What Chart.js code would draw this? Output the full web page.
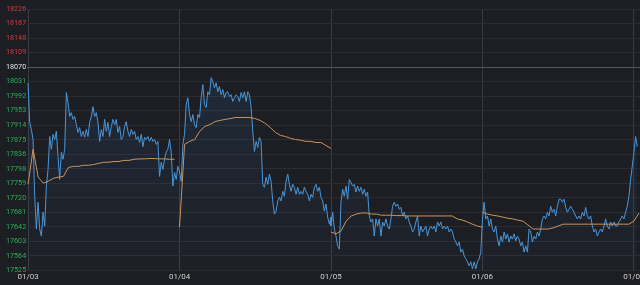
<html><head>
<meta charset="UTF-8">
<title>Intraday</title>
<script src="https://cdn.jsdelivr.net/npm/chart.js"></script>
<style>
  html, body { margin: 0; padding: 0; background: #1d1e23; overflow: hidden; }
  #wrap { width: 640px; height: 285px; }
</style>
</head>
<body>
<div id="wrap"><canvas id="intraday"></canvas></div>
<script>
// day labels on the x axis (day boundaries)
const dayLabels = ['01/03', '01/04', '01/05', '01/06', '01/07'];
// y tick labels as shown, bottom to top
const yTickLabels = ['17525', '17564', '17603', '17642', '17681', '17720', '17759', '17798', '17836', '17875',
  '17914', '17953', '17992', '18031', '18070', '18109', '18148', '18187', '18226'];
const prevClose = 18070;

// last price, one array per session
const day1Price = [18028, 17922, 17903, 17876, 17724, 17636, 17708, 17636, 17617, 17681,
  17644, 17751, 17796, 17884, 17850, 17890, 17876, 17898, 17831, 17769,
  17842, 17823, 17850, 18002, 17975, 17938, 17948, 17930, 17938, 17916,
  17895, 17908, 17884, 17898, 17882, 17903, 17884, 17922, 17938, 17964,
  17938, 17948, 17922, 17871, 17903, 17884, 17930, 17898, 17922, 17884,
  17911, 17930, 17916, 17930, 17895, 17911, 17876, 17884, 17911, 17924,
  17898, 17884, 17903, 17890, 17898, 17876, 17884, 17868, 17890, 17857,
  17882, 17876, 17884, 17871, 17882, 17871, 17876, 17863, 17871, 17777,
  17815, 17796, 17823, 17842, 17850, 17876, 17842, 17751, 17788, 17769,
  17804];
const day2Price = [17791, 17764, 17863, 17890, 17970, 17988, 17943, 17924, 17943, 17916,
  17908, 17943, 17935, 17988, 18023, 17970, 17962, 18004, 17996, 18042,
  18031, 18015, 18028, 18004, 18018, 17996, 18010, 17988, 18002, 18004,
  17991, 17996, 17978, 17988, 17996, 17991, 17978, 18002, 17988, 18004,
  17978, 18004, 17996, 17962, 17898, 17844, 17871, 17855, 17882, 17871,
  17756, 17748, 17775, 17756, 17783, 17764, 17711, 17676, 17684, 17711,
  17721, 17711, 17737, 17724, 17764, 17783, 17756, 17737, 17756, 17748,
  17729, 17748, 17729, 17737, 17729, 17748, 17737, 17729, 17711, 17729,
  17721, 17748, 17756, 17737, 17748, 17721, 17711, 17684, 17703, 17668,
  17649, 17668];
const day3Price = [17644, 17681, 17636, 17617, 17591, 17582, 17708, 17743, 17724, 17751,
  17716, 17769, 17761, 17751, 17756, 17735, 17751, 17737, 17748, 17729,
  17743, 17724, 17735, 17671, 17655, 17663, 17617, 17663, 17644, 17663,
  17617, 17655, 17644, 17663, 17644, 17636, 17663, 17697, 17708, 17697,
  17703, 17689, 17694, 17671, 17681, 17663, 17671, 17655, 17644, 17628,
  17636, 17655, 17671, 17617, 17644, 17628, 17636, 17644, 17617, 17636,
  17644, 17636, 17644, 17628, 17655, 17644, 17655, 17636, 17644, 17636,
  17644, 17628, 17636, 17628, 17609, 17601, 17591, 17601, 17574, 17582,
  17564, 17556, 17548, 17537, 17548, 17529, 17548, 17529, 17548, 17556,
  17574];
const day4Price = [17663, 17708, 17663, 17671, 17644, 17663, 17636, 17628, 17644, 17609,
  17591, 17617, 17601, 17628, 17609, 17623, 17601, 17617, 17609, 17623,
  17604, 17617, 17609, 17591, 17601, 17574, 17591, 17574, 17636, 17628,
  17601, 17617, 17609, 17628, 17617, 17636, 17663, 17671, 17663, 17681,
  17671, 17697, 17681, 17689, 17671, 17697, 17716, 17716, 17708, 17716,
  17694, 17681, 17689, 17697, 17689, 17681, 17671, 17663, 17671, 17663,
  17681, 17671, 17694, 17671, 17663, 17671, 17644, 17628, 17636, 17617,
  17628, 17636, 17628, 17644, 17663, 17644, 17636, 17655, 17644, 17655,
  17644, 17644, 17655, 17663, 17671, 17663, 17681, 17697, 17724, 17769,
  17804, 17842, 17884, 17857];

// average price line, one array per session
const day1Avg = [17756, 17850, 17775, 17759, 17764, 17772, 17775, 17777, 17801, 17804,
  17804, 17807, 17807, 17809, 17812, 17815, 17815, 17817, 17817, 17820,
  17820, 17823, 17824, 17824, 17825, 17825, 17824, 17824, 17823, 17823];
const day2Avg = [17641, 17863, 17871, 17876, 17898, 17911, 17916, 17924, 17927, 17930,
  17932, 17935, 17935, 17935, 17935, 17932, 17927, 17919, 17908, 17895,
  17887, 17884, 17879, 17876, 17874, 17871, 17871, 17868, 17868, 17860,
  17852];
const day3Avg = [17628, 17623, 17631, 17657, 17671, 17676, 17679, 17679, 17676, 17676,
  17673, 17673, 17673, 17672, 17672, 17671, 17671, 17671, 17671, 17671,
  17671, 17671, 17671, 17671, 17671, 17663, 17660, 17655, 17649, 17644,
  17641];
const day4Avg = [17681, 17676, 17673, 17671, 17668, 17665, 17663, 17660, 17657, 17647,
  17636, 17636, 17636, 17636, 17639, 17644, 17649, 17649, 17649, 17649,
  17649, 17649, 17649, 17649, 17649, 17649, 17649, 17649, 17649, 17649,
  17657, 17679];

const priceDays = [day1Price, day2Price, day3Price, day4Price];
const avgDays = [day1Avg, day2Avg, day3Avg, day4Avg];
const PRICE_STEPS = 91;  // samples per session
const AVG_STEPS = 30;

const pricePts = [];
priceDays.forEach((arr, d) => arr.forEach((v, i) => pricePts.push({ x: d + i / PRICE_STEPS, y: v })));
const avgPts = [];
avgDays.forEach((arr, d) => {
  arr.forEach((v, i) => avgPts.push({ x: d + i / AVG_STEPS, y: v }));
  avgPts.push({ x: d + 1, y: null });
});

const yMin = +yTickLabels[0];
const yMax = +yTickLabels[yTickLabels.length - 1];
const yStep = (yMax - yMin) / (yTickLabels.length - 1);
const prevIdx = yTickLabels.indexOf(String(prevClose));

const ctx = document.getElementById('intraday').getContext('2d');
new Chart(ctx, {
  type: 'line',
  data: {
    datasets: [
      {
        data: avgPts,
        borderColor: '#c9955c',
        borderWidth: 1,
        pointRadius: 0,
        spanGaps: false,
        fill: false
      },
      {
        data: pricePts,
        borderColor: '#4a96d8',
        borderWidth: 1,
        pointRadius: 0,
        fill: 'start',
        backgroundColor: (c) => {
          const area = c.chart.chartArea;
          if (!area) return 'rgba(60,130,210,0.08)';
          const g = c.chart.ctx.createLinearGradient(0, area.top, 0, area.bottom);
          g.addColorStop(0, 'rgba(60,130,210,0.16)');
          g.addColorStop(1, 'rgba(60,130,210,0.02)');
          return g;
        }
      }
    ]
  },
  options: {
    responsive: true,
    maintainAspectRatio: false,
    animation: false,
    layout: { autoPadding: false, padding: { top: 9, left: 6, right: 0, bottom: 1 } },
    plugins: { legend: { display: false }, tooltip: { enabled: false } },
    scales: {
      x: {
        type: 'linear',
        min: -0.007,
        max: 4.04,
        border: { display: false },
        grid: { color: '#3a3b41', lineWidth: 1, drawTicks: false },
        afterBuildTicks: (axis) => { axis.ticks = dayLabels.map((_, i) => ({ value: i })); },
        afterFit: (axis) => { axis.paddingLeft = 0; axis.paddingRight = 0; },
        ticks: {
          autoSkip: false,
          maxRotation: 0,
          padding: 2,
          color: '#cfcfcf',
          font: { family: 'Roboto', size: 8 },
          callback: (v, i) => dayLabels[i]
        }
      },
      y: {
        min: yMin,
        max: yMax,
        border: { display: false },
        afterFit: (axis) => { axis.width = 21; axis.paddingTop = 0; axis.paddingBottom = 0; },
        afterBuildTicks: (axis) => { axis.ticks = yTickLabels.map((_, i) => ({ value: yMin + i * yStep })); },
        grid: {
          drawTicks: false,
          color: (c) => c.index === prevIdx ? '#55565c' : '#2b2c32'
        },
        ticks: {
          crossAlign: 'far',
          padding: 0,
          font: { family: 'Roboto', size: 7.2 },
          color: (c) => c.index > prevIdx ? '#d0393e' : (c.index === prevIdx ? '#e2e2e2' : '#27b05a'),
          callback: (v, i) => yTickLabels[i]
        }
      }
    }
  }
});
</script>
</body></html>
